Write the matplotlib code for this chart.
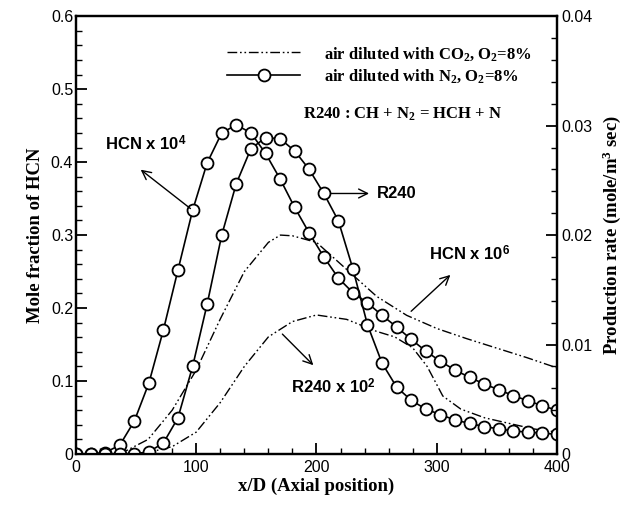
import matplotlib
matplotlib.use("Agg")
import matplotlib.pyplot as plt
from matplotlib.ticker import MultipleLocator, FuncFormatter
from matplotlib.lines import Line2D

plt.rcParams['mathtext.fontset'] = 'custom'
plt.rcParams['mathtext.rm'] = 'Liberation Serif:bold'
plt.rcParams['mathtext.it'] = 'Liberation Serif:bold'
plt.rcParams['mathtext.bf'] = 'Liberation Serif:bold'
plt.rcParams['mathtext.sf'] = 'Liberation Sans:bold'

# ---------------- data ----------------
# marker grid (N2 cases)
x_n2 = [0, 12.1, 24.2, 36.4, 48.5, 60.6, 72.7, 84.8, 97.0, 109.1, 121.2, 133.3,
        145.5, 157.6, 169.7, 181.8, 193.9, 206.1, 218.2, 230.3, 242.4, 254.5,
        266.7, 278.8, 290.9, 303.0, 315.2, 327.3, 339.4, 351.5, 363.6, 375.8,
        387.9, 400]
# HCN x 1e4, air diluted with N2 (left axis)
hcn_n2 = [0, 0, 0.002, 0.012, 0.045, 0.097, 0.170, 0.252, 0.334, 0.399, 0.440,
          0.451, 0.440, 0.412, 0.377, 0.338, 0.303, 0.270, 0.241, 0.221, 0.207,
          0.190, 0.174, 0.157, 0.141, 0.127, 0.115, 0.105, 0.096, 0.088, 0.080,
          0.073, 0.066, 0.060]
# R240, air diluted with N2 (right axis)
r240_n2 = [0, 0, 0, 0, 0, 0.0002, 0.0010, 0.0033, 0.0080, 0.0137, 0.0200,
           0.0247, 0.0279, 0.0289, 0.0288, 0.0277, 0.0260, 0.0238, 0.0213,
           0.0169, 0.0118, 0.0083, 0.0061, 0.0049, 0.0041, 0.0036, 0.0031,
           0.0028, 0.0025, 0.0023, 0.0021, 0.0020, 0.0019, 0.0018]

# HCN x 1e6, air diluted with CO2 (left axis)
x_hcn_co2 = [0, 20, 40, 60, 80, 100, 120, 140, 160, 170, 180, 200, 225, 250,
             275, 300, 325, 350, 375, 400]
hcn_co2 = [0, 0, 0.003, 0.020, 0.060, 0.115, 0.185, 0.250, 0.290, 0.300,
           0.299, 0.290, 0.253, 0.216, 0.190, 0.172, 0.158, 0.145, 0.132, 0.118]

# R240 x 1e2, air diluted with CO2 (right axis)
x_r240_co2 = [0, 40, 60, 80, 100, 120, 140, 160, 180, 200, 225, 250, 265,
              280, 292, 305, 320, 340, 360, 380, 400]
r240_co2 = [0, 0, 0.00013, 0.00067, 0.0020, 0.0047, 0.0080, 0.0107, 0.0121,
            0.0127, 0.0123, 0.0112, 0.0107, 0.0097, 0.0080, 0.0053, 0.0041,
            0.0033, 0.0028, 0.0023, 0.0020]

# ---------------- figure ----------------
fig = plt.figure(figsize=(6.33, 5.05), dpi=100)
ax = fig.add_axes([0.120, 0.101, 0.760, 0.867])
ax2 = ax.twinx()

dashdot = (0, (7, 2, 1.2, 2, 1.2, 2))
mk = dict(marker='o', markersize=8.6, markerfacecolor='white',
          markeredgecolor='black', markeredgewidth=1.3)

ax.plot(x_hcn_co2, hcn_co2, color='black', lw=1.0, linestyle=dashdot)
ax2.plot(x_r240_co2, r240_co2, color='black', lw=1.0, linestyle=dashdot)
ax.plot(x_n2, hcn_n2, color='black', lw=1.2, **mk)
ax2.plot(x_n2, r240_n2, color='black', lw=1.2, **mk)

ax.set_xlim(0, 400)
ax.set_ylim(0, 0.6)
ax2.set_ylim(0, 0.04)

ax.xaxis.set_major_locator(MultipleLocator(100))
ax.xaxis.set_minor_locator(MultipleLocator(20))
ax.yaxis.set_major_locator(MultipleLocator(0.1))
ax.yaxis.set_minor_locator(MultipleLocator(0.02))
ax2.yaxis.set_major_locator(MultipleLocator(0.01))
ax2.yaxis.set_minor_locator(MultipleLocator(0.002))

def fmt(v, p):
    return '%g' % round(v, 4)
ax.yaxis.set_major_formatter(FuncFormatter(fmt))
ax2.yaxis.set_major_formatter(FuncFormatter(fmt))
ax.xaxis.set_major_formatter(FuncFormatter(fmt))

for a in (ax, ax2):
    for s in a.spines.values():
        s.set_linewidth(1.6)
ax.tick_params(which='both', direction='in', top=False, right=False,
               labelsize=11.5, pad=2)
ax.tick_params(axis='x', which='major', pad=4)
ax.tick_params(which='major', length=8, width=1.3)
ax.tick_params(which='minor', length=4.5, width=1.0)
ax2.tick_params(which='both', direction='in', labelsize=11.5, pad=3)
ax2.tick_params(which='major', length=8, width=1.3)
ax2.tick_params(which='minor', length=4.5, width=1.0)
for lab in ax.get_xticklabels() + ax.get_yticklabels() + ax2.get_yticklabels():
    lab.set_family('Liberation Sans')

lblfont = dict(family='Liberation Serif', weight='bold', size=13.5)
ax.set_xlabel('x/D (Axial position)', labelpad=2, **lblfont)
ax.set_ylabel('Mole fraction of HCN', labelpad=5, **lblfont)
ax2.set_ylabel('Production rate (mole/m$^{3}$ sec)', labelpad=6, **lblfont)

# legend
handles = [Line2D([], [], color='black', lw=1.0, linestyle=dashdot),
           Line2D([], [], color='black', lw=1.2, **mk)]
labels = ['air diluted with CO$_{2}$, O$_{2}$=8%',
          'air diluted with N$_{2}$, O$_{2}$=8%']
leg = ax.legend(handles, labels, loc='upper left', bbox_to_anchor=(0.30, 0.95),
                frameon=False, handlelength=4.4, handletextpad=1.4,
                labelspacing=0.3, borderaxespad=0,
                prop=dict(family='Liberation Serif', weight='bold', size=12))

ax.text(0.472, 0.775, 'R240 : CH + N$_{2}$ = HCH + N', transform=ax.transAxes,
        ha='left', va='center', family='Liberation Serif', weight='bold', size=12)

afont = dict(family='Liberation Sans', weight='bold', size=12)
arrow = dict(arrowstyle='->', color='black', lw=1.0, mutation_scale=16)
ax.annotate('', xy=(52, 0.392), xytext=(97, 0.334), arrowprops=arrow)
ax.text(58, 0.425, 'HCN x 10$^{\\mathsf{4}}$', ha='center', va='center', **afont)
ax.annotate('', xy=(246, 0.357), xytext=(210, 0.357), arrowprops=arrow)
ax.text(250, 0.357, 'R240', ha='left', va='center', **afont)
ax.annotate('', xy=(313, 0.248), xytext=(277, 0.193), arrowprops=arrow)
ax.text(327, 0.275, 'HCN x 10$^{\\mathsf{6}}$', ha='center', va='center', **afont)
ax.annotate('', xy=(199, 0.119), xytext=(170, 0.167), arrowprops=arrow)
ax.text(214, 0.092, 'R240 x 10$^{\\mathsf{2}}$', ha='center', va='center', **afont)

fig.savefig('out.png', dpi=100)
